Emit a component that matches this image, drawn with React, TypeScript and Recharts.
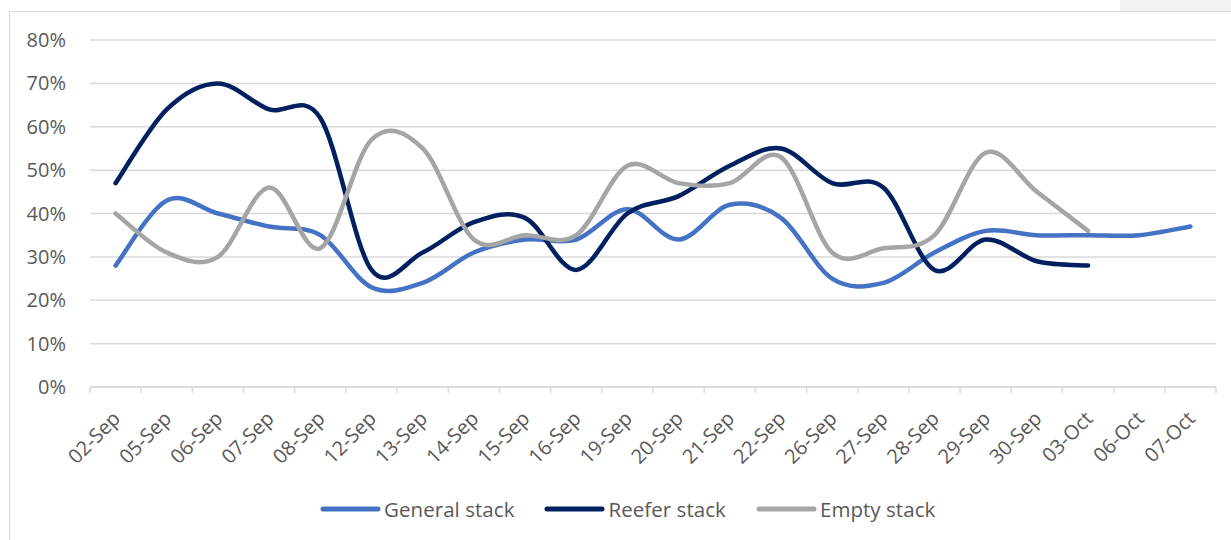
import React from 'react';
import { LineChart, Line, XAxis, YAxis, CartesianGrid, Legend } from 'recharts';

const categories = ['02-Sep', '05-Sep', '06-Sep', '07-Sep', '08-Sep', '12-Sep', '13-Sep', '14-Sep', '15-Sep', '16-Sep', '19-Sep', '20-Sep', '21-Sep', '22-Sep', '26-Sep', '27-Sep', '28-Sep', '29-Sep', '30-Sep', '03-Oct', '06-Oct', '07-Oct'];
const generalStack = [28, 43, 40, 37, 35, 23, 24, 31, 34, 34, 41, 34, 42, 39, 25, 24, 31, 36, 35, 35, 35, 37];
const reeferStack = [47, 64, 70, 64, 62, 27, 31, 38, 39, 27, 40, 44, 51, 55, 47, 46, 27, 34, 29, 28, null, null];
const emptyStack = [40, 31, 30, 46, 32, 57, 55, 34, 35, 35, 51, 47, 47, 53, 31, 32, 35, 54, 45, 36, null, null];
const yTicks = [0, 10, 20, 30, 40, 50, 60, 70, 80];

const seriesInfo = [
  { key: 'general', name: 'General stack', color: '#4472C4' },
  { key: 'reefer', name: 'Reefer stack', color: '#002060' },
  { key: 'empty', name: 'Empty stack', color: '#A5A5A5' },
];

const data = categories.map((c, i) => ({
  date: c,
  general: generalStack[i],
  reefer: reeferStack[i],
  empty: emptyStack[i],
}));

// Excel-like smoothed curve (Catmull-Rom style)
const smoothCurve: any = (context: any) => {
  let pts: number[][] = [];
  return {
    areaStart() {},
    areaEnd() {},
    lineStart() { pts = []; },
    point(x: number, y: number) { pts.push([+x, +y]); },
    lineEnd() {
      const n = pts.length;
      if (n === 0) return;
      context.moveTo(pts[0][0], pts[0][1]);
      if (n === 1) return;
      for (let i = 0; i < n - 1; i++) {
        const p0 = pts[i - 1] || pts[i];
        const p1 = pts[i];
        const p2 = pts[i + 1];
        const p3 = pts[i + 2] || pts[i + 1];
        const c1x = p1[0] + (p2[0] - p0[0]) / 6;
        const c1y = p1[1] + (p2[1] - p0[1]) / 6;
        const c2x = p2[0] - (p3[0] - p1[0]) / 6;
        const c2y = p2[1] - (p3[1] - p1[1]) / 6;
        context.bezierCurveTo(c1x, c1y, c2x, c2y, p2[0], p2[1]);
      }
    },
  };
};

const FONT = '"Open Sans", "Noto Sans", sans-serif';
const TEXT = '#595959';

const XTick = (props: any) => {
  const { x, y, payload, index, visibleTicksCount } = props;
  const half = payload && payload.offset ? payload.offset : 25.6;
  const isLast = index === visibleTicksCount - 1;
  const ax = x + 1;
  const ay = y + 28;
  return (
    <g>
      <line x1={x - half} x2={x - half} y1={y} y2={y + 6} stroke="#D9D9D9" strokeWidth={1.5} />
      {isLast && <line x1={x + half} x2={x + half} y1={y} y2={y + 6} stroke="#D9D9D9" strokeWidth={1.5} />}
      <text
        x={ax}
        y={ay}
        transform={`rotate(-45, ${ax}, ${ay})`}
        textAnchor="end"
        dy="0.35em"
        fill={TEXT}
        fontSize={20}
        fontFamily={FONT}
      >
        {payload.value}
      </text>
    </g>
  );
};

const renderLegend = () => (
  <div style={{ display: 'flex', alignItems: 'center', height: 30, paddingLeft: 320, fontFamily: FONT, fontSize: 20.5, letterSpacing: 0.05, color: TEXT }}>
    {seriesInfo.map((s, i) => (
      <div key={s.key} style={{ display: 'flex', alignItems: 'center', marginRight: i < seriesInfo.length - 1 ? 30 : 0 }}>
        <svg width={61} height={10} style={{ display: 'block' }}>
          <line x1={3} x2={58} y1={5} y2={5} stroke={s.color} strokeWidth={5} strokeLinecap="round" />
        </svg>
        <span style={{ marginLeft: 3, whiteSpace: 'nowrap' }}>{s.name}</span>
      </div>
    ))}
  </div>
);

export default function App() {
  return (
    <div style={{ position: 'absolute', left: 0, top: 0, width: 1231, height: 540, background: '#fff', overflow: 'hidden' }}>
      <div style={{ position: 'absolute', left: 1120, top: 0, width: 111, height: 11, background: '#F2F3F3' }} />
      <div style={{ position: 'absolute', left: 9, top: 11, width: 1240, height: 540, borderLeft: '1.5px solid #D9D9D9', borderTop: '1.5px solid #D9D9D9' }} />
      <div style={{ position: 'absolute', left: 0, top: 0 }}>
        <LineChart width={1231} height={540} data={data} margin={{ top: 40, right: 15, left: 0, bottom: 16 }}>
          <CartesianGrid vertical={false} stroke="#D9D9D9" strokeWidth={1.5} />
          <XAxis
            dataKey="date"
            scale="band"
            interval={0}
            height={107}
            tickLine={false}
            tickSize={0}
            tickMargin={0}
            axisLine={{ stroke: '#D9D9D9', strokeWidth: 1.5 }}
            tick={<XTick />}
          />
          <YAxis
            width={90}
            domain={[0, 80]}
            ticks={yTicks}
            interval={0}
            axisLine={false}
            tickLine={false}
            tickSize={0}
            tickMargin={24}
            tick={{ fill: TEXT, fontSize: 20, fontFamily: FONT }}
            tickFormatter={(v: number) => `${v}%`}
          />
          <Legend verticalAlign="bottom" height={30} content={renderLegend} />
          {seriesInfo.map((s) => (
            <Line
              key={s.key}
              dataKey={s.key}
              name={s.name}
              type={smoothCurve}
              stroke={s.color}
              strokeWidth={4.5}
              strokeLinecap="round"
              strokeLinejoin="round"
              dot={false}
              activeDot={false}
              isAnimationActive={false}
            />
          ))}
        </LineChart>
      </div>
    </div>
  );
}
